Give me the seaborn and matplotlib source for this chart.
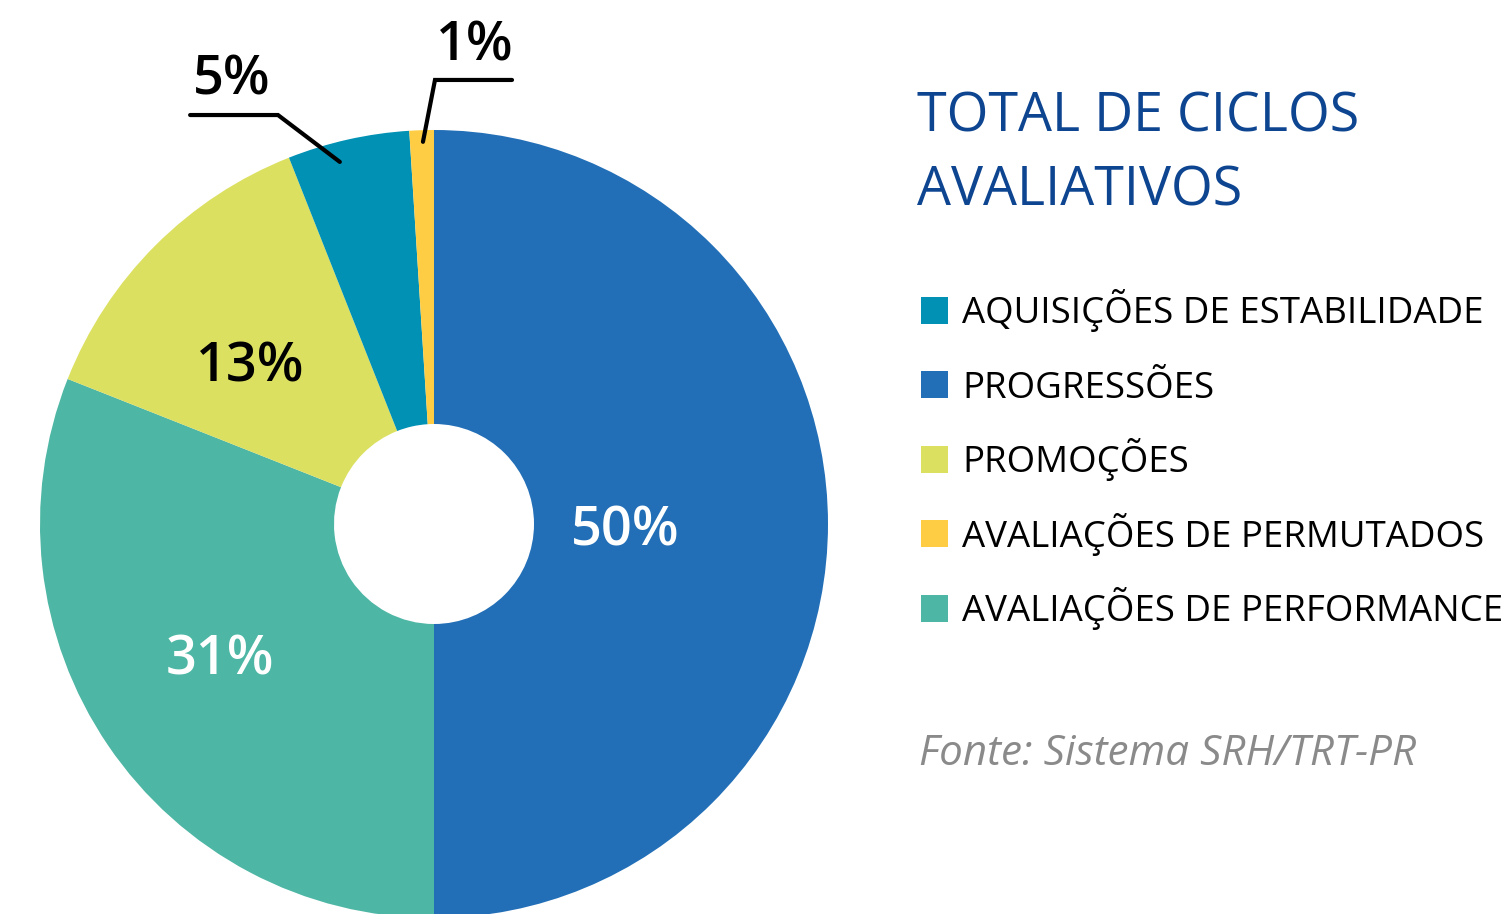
import matplotlib
matplotlib.use("Agg")
import matplotlib.pyplot as plt
from matplotlib.patches import Rectangle
import seaborn as sns

# ---- data ----
pie_labels = ["PROGRESSÕES", "AVALIAÇÕES DE PERFORMANCE", "PROMOÇÕES",
              "AQUISIÇÕES DE ESTABILIDADE", "AVALIAÇÕES DE PERMUTADOS"]
pie_values = [50, 31, 13, 5, 1]
pie_colors = ["#226FB7", "#4DB6A4", "#DCE061", "#0091B5", "#FFCD44"]
pct_text = ["50%", "31%", "13%", "5%", "1%"]
legend_order = ["AQUISIÇÕES DE ESTABILIDADE", "PROGRESSÕES", "PROMOÇÕES",
                "AVALIAÇÕES DE PERMUTADOS", "AVALIAÇÕES DE PERFORMANCE"]
title_lines = ["TOTAL DE CICLOS", "AVALIATIVOS"]
source_text = "Fonte: Sistema SRH/TRT-PR"

sns.set_theme(style="white")
plt.rcParams["font.family"] = ["Open Sans", "DejaVu Sans"]

W, H = 1507, 914
fig = plt.figure(figsize=(W / 100, H / 100), dpi=100)
fig.patch.set_facecolor("white")

cx, cy, R = 434, 524, 394
ax = fig.add_axes([(cx - R) / W, (H - cy - R) / H, 2 * R / W, 2 * R / H])
ax.axis("off")

hole = 100 / R
ax.pie(pie_values, colors=pie_colors, startangle=90, counterclock=False,
       radius=1.0, wedgeprops=dict(width=1 - hole, linewidth=0))
ax.set_xlim(-1, 1)
ax.set_ylim(-1, 1)
ax.set_aspect("equal")

fs_pct = 39
dy = -0.015
# inner labels
ax.text(0.485, -0.003 + dy, pct_text[0], color="white", fontsize=fs_pct,
        fontweight="semibold", ha="center", va="center")
ax.text(-0.543, -0.332 + dy, pct_text[1], color="white", fontsize=fs_pct,
        fontweight="semibold", ha="center", va="center")
ax.text(-0.467, 0.411 + dy, pct_text[2], color="black", fontsize=fs_pct,
        fontweight="semibold", ha="center", va="center")
# outer labels with leader lines
ax.text(-0.513, 1.140 + dy, pct_text[3], color="black", fontsize=fs_pct,
        fontweight="semibold", ha="center", va="center", clip_on=False)
ax.plot([-0.619, -0.396, -0.239], [1.038, 1.038, 0.919], color="black",
        lw=3, clip_on=False, solid_capstyle="round", solid_joinstyle="miter")
ax.text(0.104, 1.221 + dy * 0.6, pct_text[4], color="black", fontsize=fs_pct,
        fontweight="semibold", ha="center", va="center", clip_on=False)
ax.plot([0.198, 0.0025, -0.028], [1.127, 1.127, 0.970], color="black",
        lw=3, clip_on=False, solid_capstyle="round", solid_joinstyle="miter")

# title
title_color = "#0E4591"
fig.text(917 / W, 1 - 132 / H, title_lines[0], color=title_color,
         fontsize=38.7, ha="left", va="baseline")
fig.text(917 / W, 1 - 206 / H, title_lines[1], color=title_color,
         fontsize=38.7, ha="left", va="baseline")

# legend
color_map = dict(zip(pie_labels, pie_colors))
for i, lab in enumerate(legend_order):
    top = 297 + i * 74.4
    fig.patches.append(Rectangle((921 / W, 1 - (top + 27) / H), 27 / W, 27 / H,
                                 transform=fig.transFigure,
                                 facecolor=color_map[lab], edgecolor="none"))
    fig.text(962 / W, 1 - (top + 26.5) / H, lab, color="black", fontsize=26.4,
             ha="left", va="baseline")

fig.text(919 / W, 1 - 765 / H, source_text, color="#8A8A8A", fontsize=30.3,
         fontstyle="italic", ha="left", va="baseline")

fig.savefig("out.png", dpi=100, facecolor="white")
